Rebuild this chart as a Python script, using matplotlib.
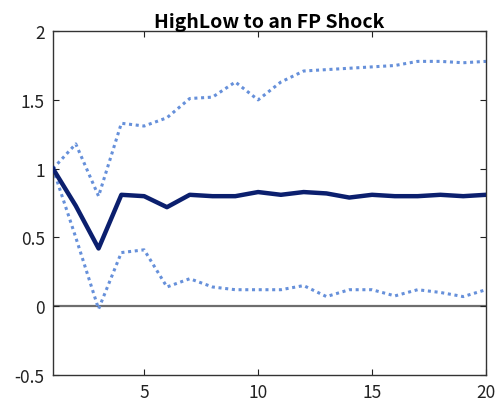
import matplotlib
matplotlib.use("Agg")
import matplotlib.pyplot as plt

plt.rcParams['font.family'] = ['Noto Sans CJK JP', 'DejaVu Sans']

horizon = list(range(1, 21))
median = [1.00, 0.73, 0.42, 0.81, 0.80, 0.72, 0.81, 0.80, 0.80, 0.83,
          0.81, 0.83, 0.82, 0.79, 0.81, 0.80, 0.80, 0.81, 0.80, 0.81]
upper = [1.00, 1.18, 0.80, 1.33, 1.31, 1.37, 1.51, 1.52, 1.63, 1.50,
         1.63, 1.71, 1.72, 1.73, 1.74, 1.75, 1.78, 1.78, 1.77, 1.78]
lower = [1.00, 0.50, -0.02, 0.39, 0.41, 0.14, 0.20, 0.14, 0.12, 0.12,
         0.12, 0.15, 0.07, 0.12, 0.12, 0.075, 0.12, 0.10, 0.07, 0.12]
yticks = [-0.5, 0, 0.5, 1, 1.5, 2]
ytick_labels = ['-0.5', '0', '0.5', '1', '1.5', '2']
xticks = [5, 10, 15, 20]

fig = plt.figure(figsize=(4.98, 4.06), dpi=100)
ax = fig.add_axes([0.1064, 0.0739, 0.8695, 0.847])

ax.axhline(0, color='#6e6e6e', lw=1.6, zorder=1)
ax.plot(horizon, upper, color='#6690da', lw=2.2, ls=(0, (1, 1.2)), zorder=2)
ax.plot(horizon, lower, color='#6690da', lw=2.2, ls=(0, (1, 1.2)), zorder=2)
ax.plot(horizon, median, color='#0b1f6e', lw=3.2, zorder=3)

ax.set_xlim(1, 20)
ax.set_ylim(-0.5, 2)
ax.set_xticks(xticks)
ax.set_xticklabels([str(t) for t in xticks])
ax.set_yticks(yticks)
ax.set_yticklabels(ytick_labels)
ax.tick_params(direction='in', top=True, right=True, length=4, width=0.8,
               labelsize=12.5, colors='#222222', pad=6)
for s in ax.spines.values():
    s.set_color('#333333')
    s.set_linewidth(1.0)

ax.set_title('HighLow to an FP Shock', fontsize=14, fontweight='bold', pad=3)

fig.savefig('out.png', dpi=100)
